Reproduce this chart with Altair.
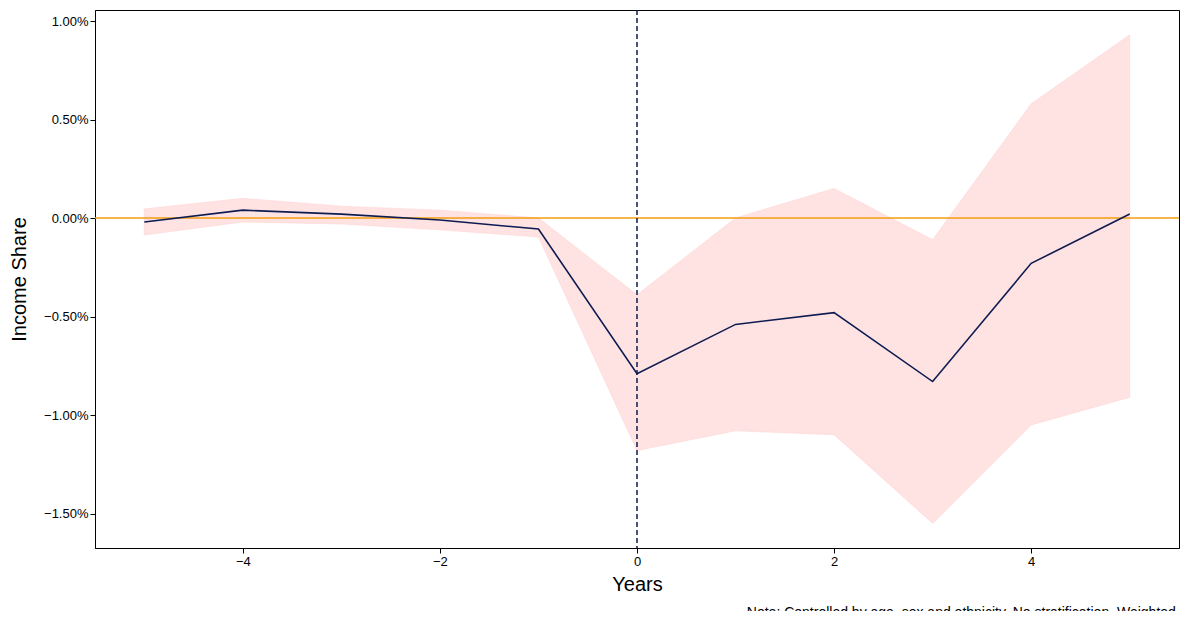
import pandas as pd
import altair as alt

years = [-5, -4, -3, -2, -1, 0, 1, 2, 3, 4, 5]
estimate = [-0.0002, 0.0004, 0.0002, -0.0001, -0.00056, -0.0079, -0.0054, -0.0048, -0.0083, -0.0023, 0.0002]
upper = [0.00046, 0.0010, 0.0006, 0.0004, 0.0000, -0.0039, 0.0000, 0.0015, -0.0011, 0.0058, 0.0093]
lower = [-0.00086, -0.0002, -0.0003, -0.0006, -0.00096, -0.0118, -0.0108, -0.0110, -0.0155, -0.0105, -0.0091]

data = pd.DataFrame({"year": years, "est": estimate, "hi": upper, "lo": lower})

font = "Liberation Sans"
xs = alt.Scale(domain=[-5.5, 5.5], nice=False, zero=False)
ys = alt.Scale(domain=[-0.01675, 0.01056], nice=False, zero=False)

base = alt.Chart(data)

band = base.mark_area(color="#ffcccc", opacity=0.55, stroke="#ffaaaa", strokeOpacity=0.5, strokeWidth=1).encode(
    x=alt.X("year:Q", scale=xs, title="Years",
            axis=alt.Axis(values=[-4, -2, 0, 2, 4], format="d", grid=False, tickColor="black",
                          domainColor="black", labelFontSize=13, titleFontSize=20, titleFont=font,
                          labelFont=font, titleFontWeight="normal", titleColor="black",
                          labelColor="black", titlePadding=6)),
    y=alt.Y("lo:Q", scale=ys, title="Income Share",
            axis=alt.Axis(format=".2%", values=[-0.015, -0.01, -0.005, 0, 0.005, 0.01], grid=False,
                          tickColor="black", domainColor="black", labelFontSize=13, titleFontSize=20,
                          titleFont=font, labelFont=font, titleFontWeight="normal",
                          titleColor="black", labelColor="black", titlePadding=14)),
    y2="hi:Q",
)

line = base.mark_line(color="#0c1c52", strokeWidth=1.6).encode(x="year:Q", y="est:Q")

zero_h = alt.Chart(pd.DataFrame({"v": [0]})).mark_rule(color="#f39c12", strokeWidth=1.5).encode(y="v:Q")
zero_v = alt.Chart(pd.DataFrame({"v": [0]})).mark_rule(color="#0c1c52", strokeDash=[5, 3], strokeWidth=1.5).encode(x="v:Q")

chart = alt.layer(band, zero_h, zero_v, line).properties(
    width=1084, height=538,
    autosize=alt.AutoSizeParams(type="none"),
    padding={"left": 87, "top": 2, "right": 1, "bottom": 63},
    title=alt.TitleParams("Note: Controlled by age, sex and ethnicity. No stratification. Weighted.",
                          orient="bottom", anchor="end", fontSize=14, font=font, fontWeight="normal",
                          color="black", offset=12),
).configure_view(stroke="black", strokeWidth=1)

chart.save("out.html", embed_options={"renderer": "svg", "actions": False})
